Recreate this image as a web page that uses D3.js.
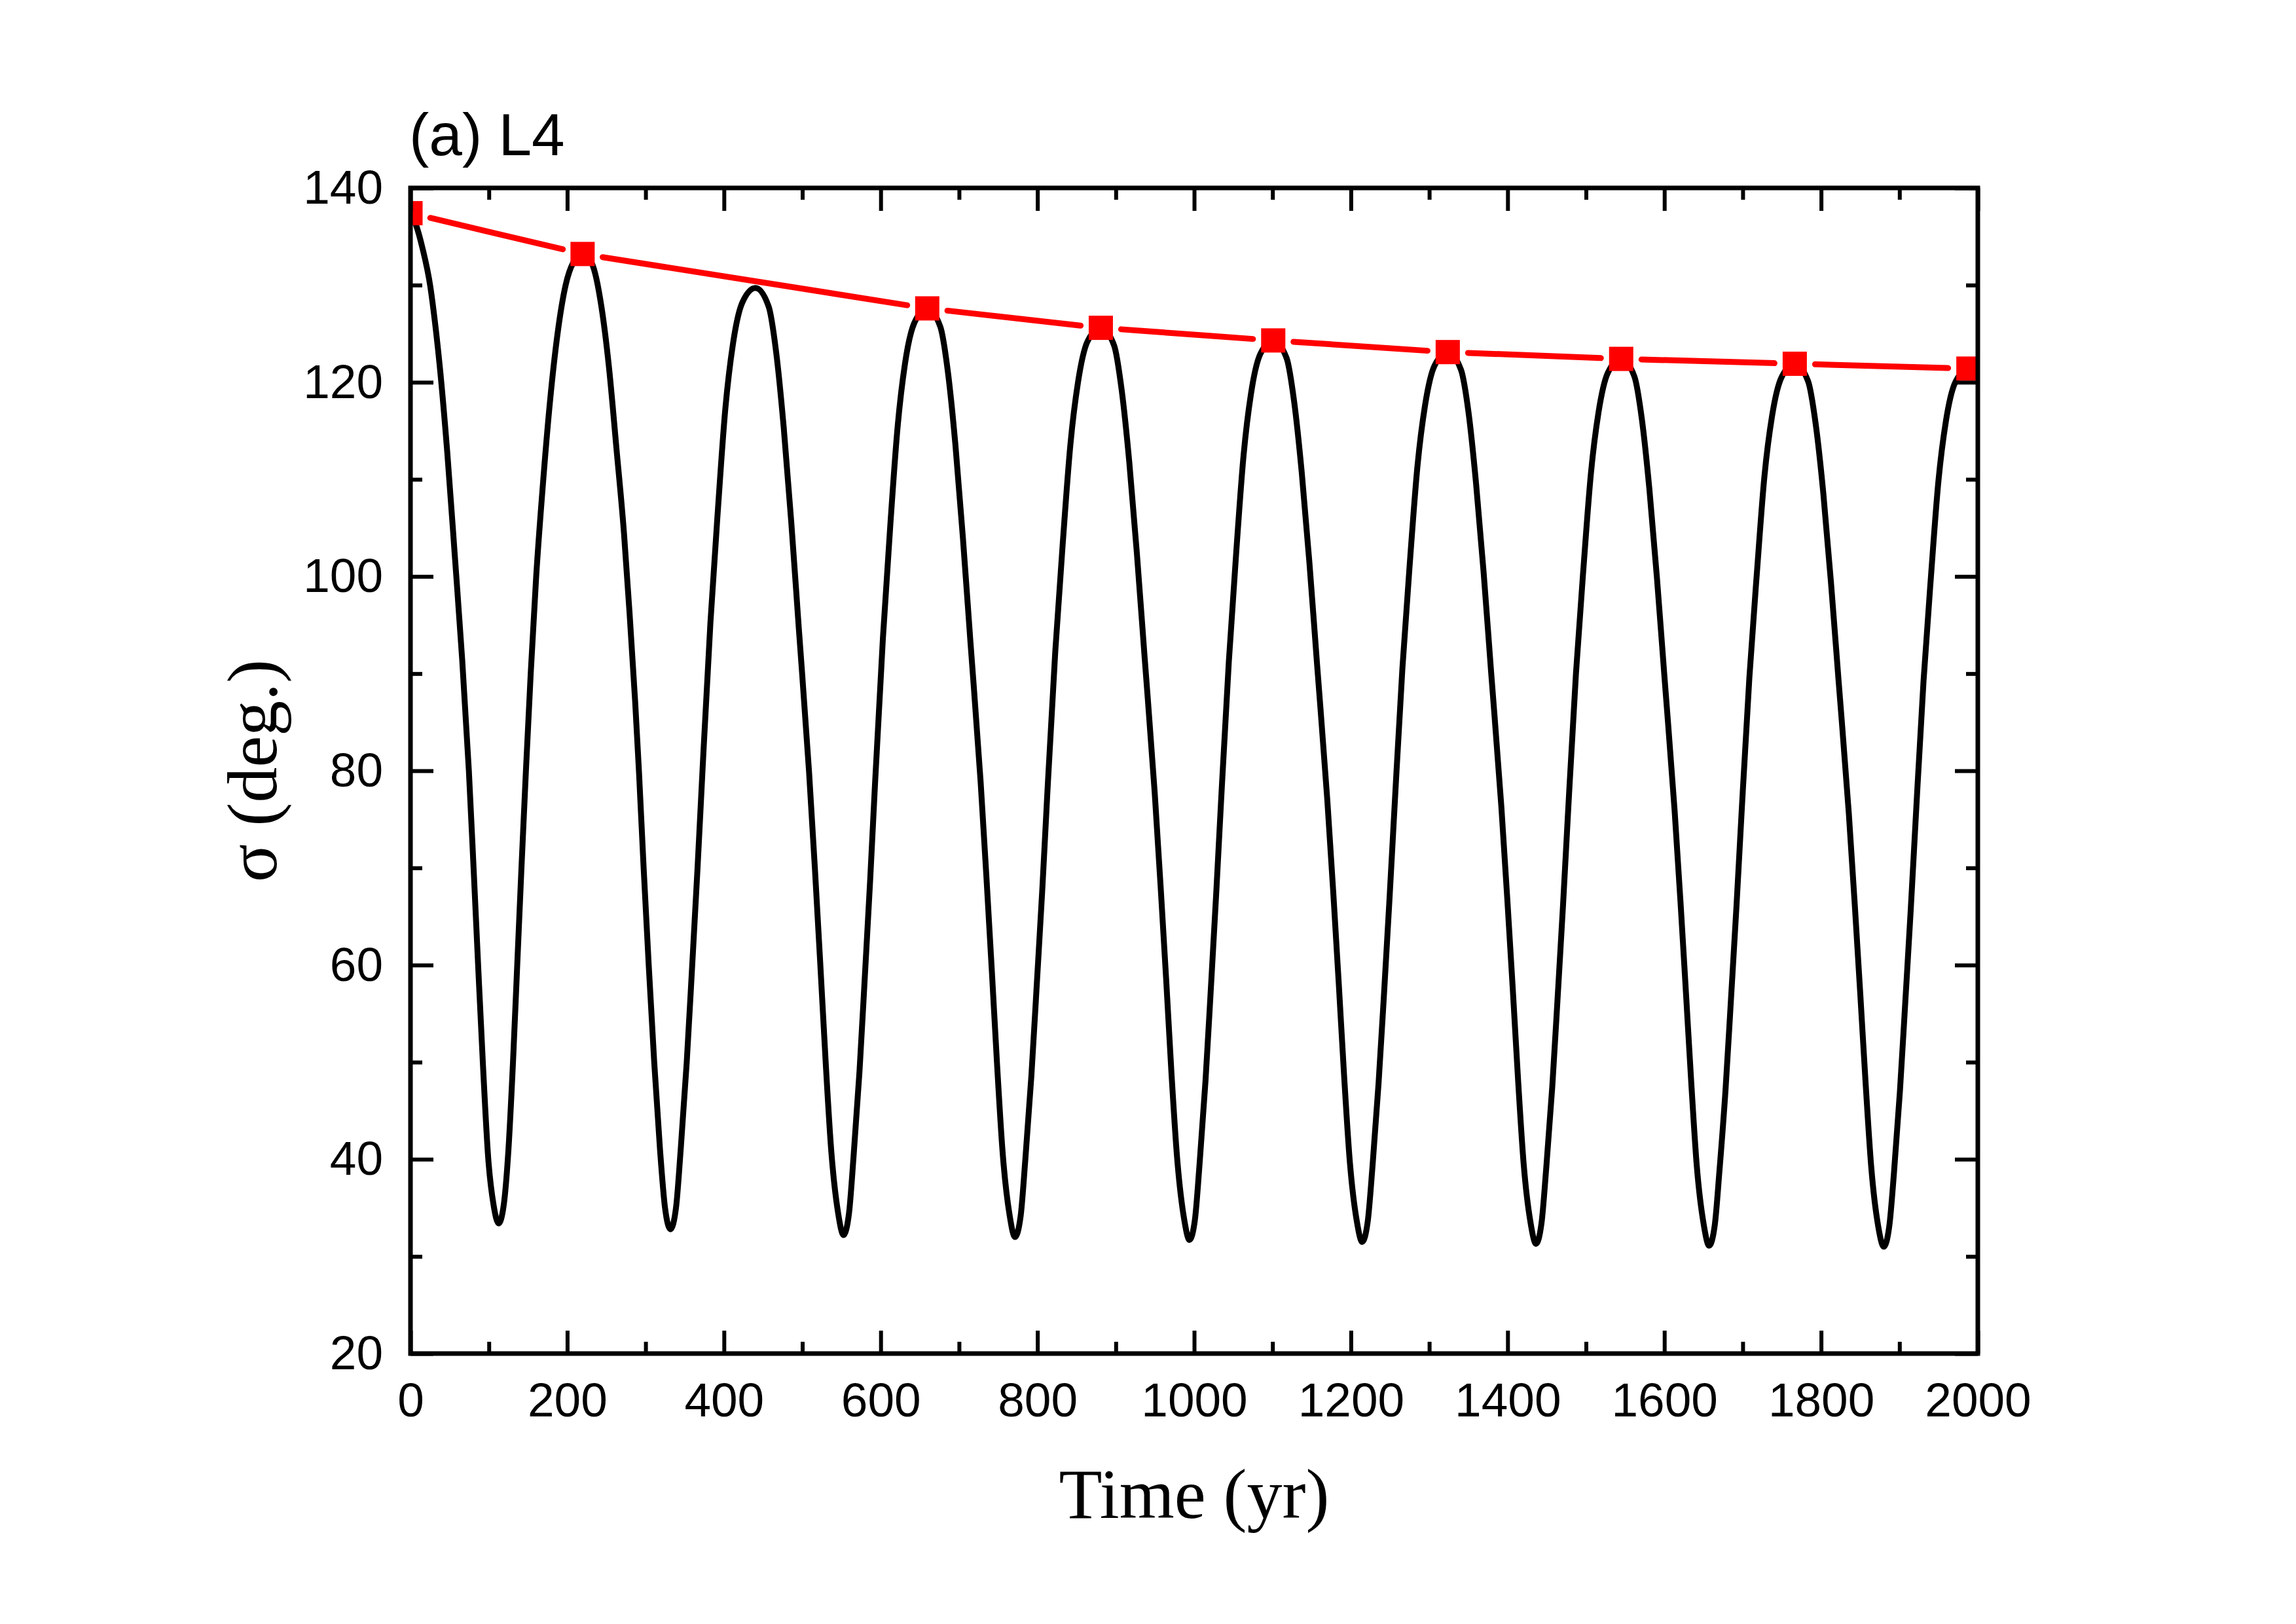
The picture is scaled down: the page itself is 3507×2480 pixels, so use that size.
<!DOCTYPE html>
<html>
<head>
<meta charset="utf-8">
<script src="https://cdn.jsdelivr.net/npm/d3@7"></script>
<style>
  html, body { margin: 0; padding: 0; background: #fff; }
  svg { display: block; }
</style>
</head>
<body>
<div id="chart"></div>
<script>
// resonant angle (one row per half libration)
const timeYr = [
  0, 7, 15, 25.4, 31.5, 37.4, 47, 56.5, 66, 74.5, 80.5, 86.3, 92.3, 99.3, 106, 112.5,
  119, 125, 130.8, 136.2, 141.6, 147.3, 153.4, 160.4, 168.5, 178, 188, 198, 207.6, 219.6,
  231.6, 243.6, 253.2, 262.8, 272.4, 279.5, 286.7, 291.5, 297.5, 304, 311, 318.4, 324.8, 331.8,
  338.8, 344.8, 352.5, 359.5, 366.3, 372.6, 382.7, 392.3, 401.8, 411.4, 423.4, 440.2,
  457, 466.6, 476.2, 485.8, 495.4, 508.5, 516, 523, 529.8, 536.8, 545.6, 552.6,
  559.5, 565.4, 573.0, 579.9, 586.6, 592.8, 602.8, 612.2, 621.6, 631.0, 642.9, 659.4,
  676.1, 685.7, 695.3, 704.8, 714.4, 727.5, 734.9, 741.9, 748.7, 755.7, 764.4, 771.4,
  778.5, 784.5, 792.3, 799.4, 806.3, 812.6, 822.8, 832.5, 842.1, 851.8, 863.9, 880.9,
  897.8, 907.5, 917.2, 926.8, 936.5, 949.7, 957.2, 964.3, 971.1, 978.2, 987.1, 994.1,
  1001.0, 1006.9, 1014.5, 1021.4, 1028.1, 1034.3, 1044.3, 1053.7, 1063.1, 1072.5, 1084.4, 1100.9,
  1117.9, 1127.6, 1137.3, 1147.0, 1156.7, 1169.9, 1177.5, 1184.6, 1191.5, 1198.5, 1207.4, 1214.5,
  1221.5, 1227.6, 1235.3, 1242.4, 1249.2, 1255.6, 1265.7, 1275.4, 1285.0, 1294.6, 1306.7, 1323.6,
  1340.4, 1350.1, 1359.7, 1369.3, 1378.9, 1392.0, 1399.5, 1406.6, 1413.4, 1420.4, 1429.2, 1436.2,
  1443.2, 1449.2, 1457.0, 1464.0, 1470.8, 1477.1, 1487.2, 1496.9, 1506.4, 1516.0, 1528.1, 1544.9,
  1561.7, 1571.3, 1580.9, 1590.5, 1600.1, 1613.1, 1620.6, 1627.6, 1634.4, 1641.4, 1650.2, 1657.2,
  1664.3, 1670.3, 1678.1, 1685.1, 1692.0, 1698.3, 1708.5, 1718.2, 1727.7, 1737.4, 1749.5, 1766.4,
  1783.4, 1793.1, 1802.8, 1812.5, 1822.2, 1835.4, 1843.0, 1850.1, 1857.0, 1864.0, 1872.9, 1880,
  1887.0, 1893.0, 1900.6, 1907.6, 1914.4, 1920.7, 1930.7, 1940.3, 1949.7, 1959.3, 1971.3, 1988, 2000
];
const sigmaDeg = [
  137.4, 136.2, 133.9, 129.8, 126.0, 121.6, 112.7, 102.2, 91.4, 80, 70, 60, 50, 40, 35.3, 33.4,
  35.3, 41, 50, 60, 70, 80, 90, 100, 109, 118, 125.2, 130, 132.3, 133.2,
  132.2, 127.8, 121.6, 113.2, 104.5, 96.3, 87.1, 80, 70, 60, 50, 41, 35, 32.8,
  35, 41, 50, 60, 70, 80, 95.2, 106.9, 117.3, 123.9, 128.2, 129.7,
  127.8, 123.1, 115.4, 105.7, 94.8, 80, 70, 60, 50, 41, 34.5, 32.2,
  34.4, 40.3, 49.1, 59.0, 68.8, 78.7, 93.6, 105.2, 115.4, 121.9, 126.1, 127.6,
  125.7, 121.1, 113.6, 104.1, 93.4, 78.9, 69.1, 59.3, 49.5, 40.6, 34.3, 32.0,
  34.1, 39.9, 48.6, 58.3, 67.9, 77.6, 92.3, 103.6, 113.6, 120.0, 124.2, 125.6,
  123.8, 119.2, 111.8, 102.5, 92.0, 77.7, 68.1, 58.5, 48.8, 40.2, 33.9, 31.7,
  33.8, 39.5, 48.1, 57.7, 67.3, 76.8, 91.3, 102.5, 112.5, 118.8, 122.9, 124.3,
  122.5, 118.0, 110.7, 101.5, 91.1, 77.0, 67.5, 58.0, 48.4, 39.9, 33.7, 31.5,
  33.6, 39.3, 47.8, 57.2, 66.7, 76.1, 90.5, 101.6, 111.4, 117.6, 121.7, 123.1,
  121.3, 116.9, 109.6, 100.5, 90.2, 76.3, 66.9, 57.5, 48.1, 39.6, 33.5, 31.3,
  33.4, 39.0, 47.5, 56.9, 66.3, 75.7, 90.0, 101.0, 110.7, 116.9, 121.0, 122.4,
  120.6, 116.2, 109.0, 99.9, 89.7, 75.9, 66.5, 57.1, 47.8, 39.3, 33.3, 31.1,
  33.2, 38.8, 47.2, 56.6, 66.0, 75.3, 89.6, 100.5, 110.3, 116.5, 120.5, 121.9,
  120.1, 115.7, 108.6, 99.5, 89.4, 75.6, 66.2, 56.9, 47.6, 39.2, 33.1, 31.0,
  33.1, 38.6, 47.0, 56.4, 65.7, 75.0, 89.2, 100.1, 109.8, 116.0, 120.0, 121.4, 120.6
];

// upper envelope (red squares)
const envTime = [0, 219.6, 659.4, 880.9, 1100.9, 1323.6, 1544.9, 1766.4, 1988];
const envSigma = [137.4, 133.2, 127.6, 125.6, 124.3, 123.1, 122.4, 121.9, 121.4];

const xMajorTicks = [0, 200, 400, 600, 800, 1000, 1200, 1400, 1600, 1800, 2000];
const xMinorTicks = [100, 300, 500, 700, 900, 1100, 1300, 1500, 1700, 1900];
const yMajorTicks = [20, 40, 60, 80, 100, 120, 140];
const yMinorTicks = [30, 50, 70, 90, 110, 130];

const W = 3507, H = 2480;
const margin = { top: 287, right: 486, bottom: 413, left: 627 };
const width = W - margin.left - margin.right;
const height = H - margin.top - margin.bottom;

const sansFont = "'Liberation Sans', Arial, Helvetica, sans-serif";
const serifFont = "'Liberation Serif', 'Times New Roman', Times, serif";

const svg = d3.select("#chart").append("svg")
  .attr("width", W)
  .attr("height", H)
  .attr("viewBox", `0 0 ${W} ${H}`);

svg.append("rect").attr("width", W).attr("height", H).attr("fill", "#fff");

const g = svg.append("g")
  .attr("transform", `translate(${margin.left},${margin.top})`);

const x = d3.scaleLinear().domain([0, 2000]).range([0, width]);
const y = d3.scaleLinear().domain([20, 140]).range([height, 0]);

g.append("clipPath").attr("id", "plotClip")
  .append("rect").attr("width", width).attr("height", height);

const plot = g.append("g").attr("clip-path", "url(#plotClip)");

// black libration curve
const curveLine = d3.line()
  .x(d => x(d[0]))
  .y(d => y(d[1]))
  .curve(d3.curveMonotoneX);

plot.append("path")
  .datum(d3.zip(timeYr, sigmaDeg))
  .attr("fill", "none")
  .attr("stroke", "#000")
  .attr("stroke-width", 9)
  .attr("stroke-linejoin", "round")
  .attr("d", curveLine);

// red envelope: line broken around each symbol
const envPts = envTime.map((t, i) => [x(t), y(envSigma[i])]);
const gap = 31;
const segments = d3.pairs(envPts).map(([a, b]) => {
  const dx = b[0] - a[0], dy = b[1] - a[1];
  const len = Math.hypot(dx, dy);
  const ux = dx / len, uy = dy / len;
  return [[a[0] + ux * gap, a[1] + uy * gap], [b[0] - ux * gap, b[1] - uy * gap]];
});

plot.selectAll(".envSeg")
  .data(segments)
  .enter().append("path")
  .attr("class", "envSeg")
  .attr("fill", "none")
  .attr("stroke", "#ff0000")
  .attr("stroke-width", 9)
  .attr("stroke-linecap", "round")
  .attr("d", d3.line());

const sq = 37;
plot.selectAll(".envPt")
  .data(envPts)
  .enter().append("rect")
  .attr("class", "envPt")
  .attr("x", d => d[0] - sq / 2)
  .attr("y", d => d[1] - sq / 2)
  .attr("width", sq)
  .attr("height", sq)
  .attr("fill", "#ff0000");

// axes, ticks inward on all four sides
function styleAxis(sel) {
  sel.select(".domain").remove();
  sel.selectAll(".tick line").attr("stroke", "#000").attr("stroke-width", 6);
  sel.attr("font-size", 73).attr("font-family", sansFont);
  sel.selectAll(".tick text").attr("fill", "#000");
}

const major = 35, minor = 18;

g.append("g").attr("transform", `translate(0,${height})`)
  .call(d3.axisBottom(x).tickValues(xMajorTicks).tickSize(-major).tickPadding(44).tickFormat(d3.format("d")))
  .call(styleAxis);
g.append("g").attr("transform", `translate(0,${height})`)
  .call(d3.axisBottom(x).tickValues(xMinorTicks).tickSize(-minor).tickFormat(""))
  .call(styleAxis);
g.append("g")
  .call(d3.axisTop(x).tickValues(xMajorTicks).tickSize(-major).tickFormat(""))
  .call(styleAxis);
g.append("g")
  .call(d3.axisTop(x).tickValues(xMinorTicks).tickSize(-minor).tickFormat(""))
  .call(styleAxis);

g.append("g")
  .call(d3.axisLeft(y).tickValues(yMajorTicks).tickSize(-major).tickPadding(42).tickFormat(d3.format("d")))
  .call(styleAxis);
g.append("g")
  .call(d3.axisLeft(y).tickValues(yMinorTicks).tickSize(-minor).tickFormat(""))
  .call(styleAxis);
g.append("g").attr("transform", `translate(${width},0)`)
  .call(d3.axisRight(y).tickValues(yMajorTicks).tickSize(-major).tickFormat(""))
  .call(styleAxis);
g.append("g").attr("transform", `translate(${width},0)`)
  .call(d3.axisRight(y).tickValues(yMinorTicks).tickSize(-minor).tickFormat(""))
  .call(styleAxis);

// frame
g.append("rect")
  .attr("width", width)
  .attr("height", height)
  .attr("fill", "none")
  .attr("stroke", "#000")
  .attr("stroke-width", 7);

// titles
g.append("text")
  .attr("x", -2)
  .attr("y", -50)
  .attr("font-family", sansFont)
  .attr("font-size", 91)
  .attr("fill", "#000")
  .text("(a) L4");

g.append("text")
  .attr("x", width / 2)
  .attr("y", 2031)
  .attr("text-anchor", "middle")
  .attr("font-family", serifFont)
  .attr("font-size", 108)
  .attr("fill", "#000")
  .text("Time (yr)");

g.append("text")
  .attr("transform", `translate(-205,${height / 2}) rotate(-90)`)
  .attr("text-anchor", "middle")
  .attr("font-family", serifFont)
  .attr("font-size", 108)
  .attr("fill", "#000")
  .text("σ (deg.)");
</script>
</body>
</html>
